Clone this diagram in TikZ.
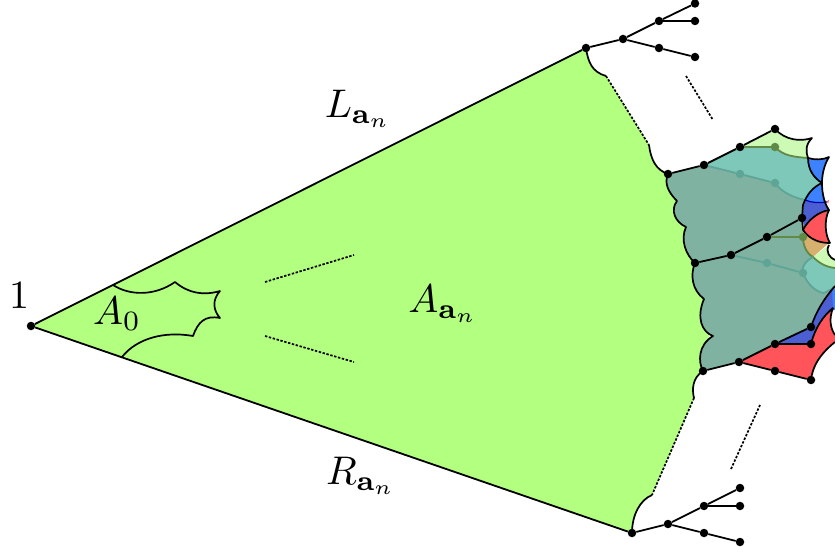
\documentclass[tikz,border=0pt]{standalone}
\definecolor{cgreen}{RGB}{179,255,128}
\definecolor{cgrey}{RGB}{128,178,162}
\definecolor{cteal}{RGB}{125,200,185}
\definecolor{cpale}{RGB}{205,250,180}
\definecolor{cblue}{RGB}{60,130,255}
\definecolor{cdblue}{RGB}{75,95,210}
\definecolor{cred}{RGB}{255,85,90}
\definecolor{ctan}{RGB}{215,175,110}
\definecolor{colive}{RGB}{96,138,70}
\definecolor{ctealline}{RGB}{95,165,150}
\tikzset{
  vtx/.style={circle,fill=black,inner sep=0pt,minimum size=8.5pt},
  vtxo/.style={circle,fill=colive,inner sep=0pt,minimum size=8.5pt},
  vtxt/.style={circle,fill=ctealline,inner sep=0pt,minimum size=8.5pt},
  edge/.style={line width=1.8pt,black},
  bnd/.style={line width=1.7pt,black,line join=round},
  dots/.style={line width=1.7pt,black,dash pattern=on 2.4pt off 1.6pt},
  oline/.style={line width=1.8pt,colive},
  tline/.style={line width=1.8pt,ctealline},
  lab/.style={inner sep=0pt,scale=4}
}
\begin{document}
\begin{tikzpicture}[x=1pt,y=-1pt]
\useasboundingbox (0,0) rectangle (835,553);
\begin{scope}
\clip (0,0) rectangle (835,553);
% big green triangle
\fill[cgreen] (31,326) -- (586,48) .. controls (588,62) and (592,72) .. (606,76) -- (649,145) .. controls (651,160) and (656,170) .. (668,174) -- (720,270) -- (703,371) .. controls (692,378) and (692,390) .. (694,398) -- (652,495) .. controls (640,500) and (632,515) .. (632,533) -- cycle;
% grey body
\fill[cgrey] (668,174) -- (704,165) -- (740,174) -- (775,183) .. controls (782,193) and (795,198) .. (805,200) -- (803,228) -- (813,257) -- (803,273) .. controls (807,284) and (815,291) .. (823,293) -- (832,290) .. controls (823,300) and (816,312) .. (811,327) -- (775,344) -- (739,362) -- (703,371)
  .. controls (698,362) and (698,345) .. (713,336) .. controls (702,332) and (696,318) .. (704,299) .. controls (692,290) and (690,275) .. (695,263) .. controls (686,255) and (680,240) .. (686,227) .. controls (675,222) and (670,210) .. (677,201) .. controls (668,192) and (664,183) .. (668,174) -- cycle;
% upper layers
\fill[cteal] (704,165) -- (740,147) -- (775,147) .. controls (783,156) and (795,157) .. (808,158) .. controls (808,170) and (814,178) .. (822,183) .. controls (813,187) and (807,194) .. (805,200) .. controls (795,198) and (782,193) .. (775,183) -- (740,174) -- cycle;
\fill[cpale] (740,147) -- (775,129) .. controls (785,140) and (800,142) .. (812,138) .. controls (805,145) and (806,152) .. (808,158) .. controls (795,157) and (783,156) .. (775,147) -- cycle;
\fill[cblue] (808,158) .. controls (815,160) and (823,160) .. (829,157) .. controls (824,165) and (822,175) .. (822,183) .. controls (814,178) and (808,170) .. (808,158) -- cycle;
\fill[cdblue] (805,200) -- (825,202) -- (829,210) .. controls (818,212) and (808,220) .. (805,228) -- (802,218) -- cycle;
\fill[cblue] (822,183) .. controls (813,187) and (807,194) .. (805,200) .. controls (812,203) and (820,203) .. (826,203) .. controls (824,197) and (822,190) .. (822,183) -- cycle;
\fill[cred] (827,201) -- (829,200) -- (828,204) -- cycle;
\fill[cred] (829,210) .. controls (818,212) and (808,220) .. (803,230) .. controls (810,240) and (820,243) .. (830,243) .. controls (825,235) and (824,220) .. (829,210) -- cycle;
\fill[ctan] (803,230) .. controls (810,240) and (820,243) .. (829,243) -- (813,257) .. controls (806,253) and (803,245) .. (803,237) -- cycle;
\fill[cpale] (813,257) -- (829,245) .. controls (825,252) and (830,258) .. (835,260) -- (835,268) .. controls (825,267) and (818,262) .. (813,257) -- cycle;
\fill[cteal] (803,273) .. controls (801,266) and (806,261) .. (813,257) .. controls (818,262) and (825,267) .. (835,268) -- (835,287) .. controls (830,290) and (825,293) .. (823,293) .. controls (815,291) and (807,284) .. (803,273) -- cycle;
% lower layers
\fill[cblue] (832,290) -- (835,287) -- (835,310) -- (830,310) -- cycle;
\fill[cdblue] (775,344) -- (811,327) .. controls (816,312) and (823,300) .. (832,290) -- (833,308) .. controls (823,316) and (815,328) .. (811,344) -- cycle;
\fill[cred] (739,362) -- (775,344) -- (811,344) .. controls (815,328) and (823,316) .. (833,308) .. controls (829,318) and (830,328) .. (835,335) -- (835,342) .. controls (825,350) and (813,362) .. (811,380) -- (775,371) -- cycle;
% translucent boundary curves
\draw[oline] (775,147) .. controls (783,156) and (795,157) .. (808,158);
\draw[tline] (775,183) .. controls (782,193) and (795,198) .. (805,200);
\draw[oline] (803,237) .. controls (803,245) and (806,253) .. (813,257) .. controls (818,262) and (825,267) .. (835,268);
\draw[tline] (803,273) .. controls (801,266) and (806,261) .. (813,257);
\draw[tline] (803,273) .. controls (807,284) and (815,291) .. (823,293) .. controls (825,293) and (830,290) .. (835,287);
\draw[line width=1.2pt,blue!70!black] (805,200) .. controls (812,203) and (820,203) .. (827,202);
% black boundary curves
\draw[bnd] (668,174) .. controls (664,183) and (668,192) .. (677,201) .. controls (670,210) and (675,222) .. (686,227) .. controls (680,240) and (686,255) .. (695,263) .. controls (690,275) and (692,290) .. (704,299) .. controls (696,318) and (702,332) .. (713,336) .. controls (698,345) and (698,362) .. (703,371);
\draw[bnd] (586,48) .. controls (588,62) and (592,72) .. (606,76);
\draw[bnd] (649,145) .. controls (651,160) and (656,170) .. (668,174);
\draw[bnd] (703,371) .. controls (692,378) and (692,390) .. (694,398);
\draw[bnd] (652,495) .. controls (640,500) and (632,515) .. (632,533);
\draw[bnd] (775,129) .. controls (785,140) and (800,142) .. (812,138) .. controls (805,145) and (806,152) .. (808,158) .. controls (808,170) and (814,178) .. (822,183) .. controls (813,187) and (807,194) .. (803,205) -- (802,218);
\draw[bnd] (808,158) .. controls (815,160) and (823,160) .. (829,157) .. controls (824,165) and (822,175) .. (822,183) .. controls (822,193) and (824,203) .. (829,210) .. controls (818,212) and (808,220) .. (803,230);
\draw[bnd] (802,218) -- (803,230) .. controls (810,240) and (820,243) .. (830,243) .. controls (825,235) and (824,220) .. (829,210);
\draw[bnd] (829,245) .. controls (825,252) and (830,258) .. (835,260);
\draw[bnd] (811,327) .. controls (816,312) and (823,300) .. (835,286);
\draw[bnd] (811,344) .. controls (815,328) and (823,316) .. (833,308) .. controls (829,318) and (830,328) .. (835,335);
\draw[bnd] (835,342) .. controls (825,350) and (813,362) .. (811,380);
% A_0
\draw[bnd] (113,285) .. controls (130,296) and (155,296) .. (175,282) .. controls (188,293) and (203,296) .. (220,291) .. controls (212,300) and (213,310) .. (220,318) .. controls (205,315) and (198,322) .. (193,336) .. controls (165,331) and (137,338) .. (122,357);
\end{scope}
% vertices
\node[vtx] (o) at (31,326) {};
\node[vtx] (t0) at (586,48) {};
\node[vtx] (t1) at (623,39) {};
\node[vtx] (t2) at (659,21) {};
\node[vtx] (t3) at (695,3.5) {};
\node[vtx] (t4) at (695,21) {};
\node[vtx] (t5) at (659,48) {};
\node[vtx] (t6) at (695,57) {};
\node[vtx] (b0) at (632,533) {};
\node[vtx] (b1) at (668,524) {};
\node[vtx] (b2) at (704,506) {};
\node[vtx] (b3) at (740,488) {};
\node[vtx] (b4) at (740,506) {};
\node[vtx] (b5) at (704,533) {};
\node[vtx] (b6) at (740,542) {};
\node[vtx] (u0) at (668,174) {};
\node[vtx] (u1) at (704,165) {};
\node[vtx] (u2) at (740,147) {};
\node[vtx] (u3) at (775,129) {};
\node[vtxo] (u4) at (775,147) {};
\node[vtxt] (u5) at (740,174) {};
\node[vtxt] (u6) at (775,183) {};
\node[vtx] (m0) at (695,263) {};
\node[vtx] (m1) at (731,255) {};
\node[vtx] (m2) at (767,237) {};
\node[vtx] (m3) at (802,218) {};
\node[vtxo] (m4) at (803,237) {};
\node[vtxt] (m5) at (767,263) {};
\node[vtxt] (m6) at (803,273) {};
\node[vtx] (l0) at (703,371) {};
\node[vtx] (l1) at (739,362) {};
\node[vtx] (l2) at (775,344) {};
\node[vtx] (l3) at (811,327) {};
\node[vtx] (l4) at (811,344) {};
\node[vtx] (l5) at (775,371) {};
\node[vtx] (l6) at (811,380) {};
% edges
\draw[edge] (o) -- (t0);
\draw[edge] (o) -- (b0);
\draw[edge] (t0) -- (t1) -- (t2) -- (t3);
\draw[edge] (t2) -- (t4);
\draw[edge] (t1) -- (t5) -- (t6);
\draw[edge] (b0) -- (b1) -- (b2) -- (b3);
\draw[edge] (b2) -- (b4);
\draw[edge] (b1) -- (b5) -- (b6);
\draw[edge] (u0) -- (u1) -- (u2) -- (u3);
\draw[oline] (u2) -- (u4);
\draw[tline] (u1) -- (u5) -- (u6);
\draw[edge] (m0) -- (m1) -- (m2) -- (m3);
\draw[oline] (m2) -- (m4);
\draw[tline] (m1) -- (m5) -- (m6);
\draw[edge] (l0) -- (l1) -- (l2) -- (l3);
\draw[edge] (l2) -- (l4);
\draw[edge] (l1) -- (l5) -- (l6);
% dotted
\coordinate (d1a) at (606,76); \coordinate (d1b) at (649,145);
\coordinate (d2a) at (694,398); \coordinate (d2b) at (652,495);
\coordinate (d3a) at (686,76); \coordinate (d3b) at (713,120);
\coordinate (d4a) at (731,469); \coordinate (d4b) at (760,405);
\coordinate (d5a) at (265,282); \coordinate (d5b) at (354,255);
\coordinate (d6a) at (265,336); \coordinate (d6b) at (354,362);
\draw[dots] (d1a) -- (d1b);
\draw[dots] (d2a) -- (d2b);
\draw[dots] (d3a) -- (d3b);
\draw[dots] (d4a) -- (d4b);
\draw[dots] (d5a) -- (d5b);
\draw[dots] (d6a) -- (d6b);
% labels
\node[lab] (n1) at (19,296) {$1$};
\node[lab] (a0) at (117,314) {$A_0$};
\node[lab] (la) at (358,109) {$L_{\mathbf{a}_n}$};
\node[lab] (aa) at (443,304) {$A_{\mathbf{a}_n}$};
\node[lab] (ra) at (361,476) {$R_{\mathbf{a}_n}$};
\end{tikzpicture}
\end{document}
